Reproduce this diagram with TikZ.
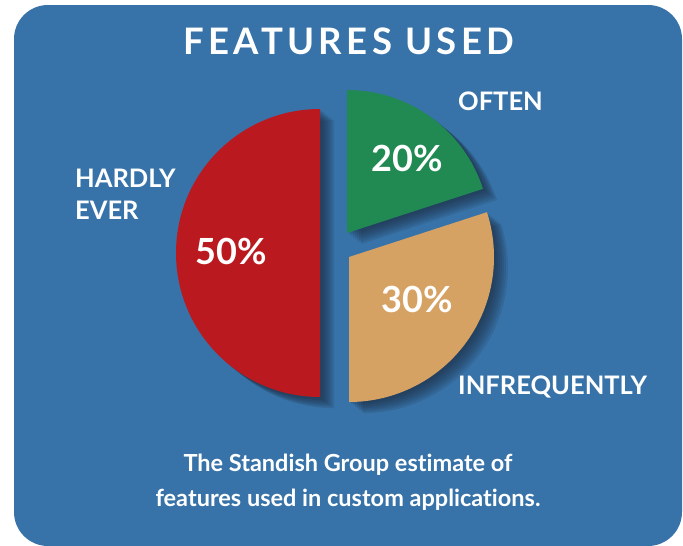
\documentclass[tikz,border=0pt]{standalone}
\usepackage{fontspec}
\setmainfont{Lato}[Ligatures=NoCommon]
\definecolor{panelblue}{HTML}{3773A8}
\definecolor{sliceRed}{HTML}{BA1A1F}
\definecolor{sliceGreen}{HTML}{218A53}
\definecolor{sliceTan}{HTML}{D6A263}
\definecolor{shadowNavy}{HTML}{1C2A3E}
% slice outlines (pixel units, y down)
\newcommand{\greenSlice}{(347,233) -- ++(0,-143) arc[start angle=-90, end angle=-18, radius=143] -- cycle}
\newcommand{\tanSlice}{(349,257) -- ++(-18:145) arc[start angle=-18, end angle=90, radius=145] -- cycle}
\newcommand{\redSlice}{(320,109) arc[start angle=-90, end angle=-270, radius=144] -- cycle}
\begin{document}
\begin{tikzpicture}[x=1pt,y=-1pt,
    pct/.style={text=white,font=\bfseries\fontsize{36}{40}\selectfont},
    lbl/.style={text=white,font=\bfseries\fontsize{25.5}{32}\selectfont,align=left,inner sep=0pt},
    note/.style={text=white,font=\bfseries\fontsize{23.5}{35}\selectfont,align=center,inner sep=0pt}]

    \useasboundingbox (0,0) rectangle (683,546); % Page size

    \fill[white] (0,0) rectangle (683,546);
    \fill[panelblue,rounded corners=34] (14,5) rectangle (682,546); % Panel

    % Soft shadow behind the slices
    \foreach \o in {2,4,...,14}{
        \fill[shadowNavy,opacity=0.14,shift={(\o,0.8*\o)}] \greenSlice;
        \fill[shadowNavy,opacity=0.14,shift={(\o,0.8*\o)}] \tanSlice;
        \fill[shadowNavy,opacity=0.14,shift={(\o,0.8*\o)}] \redSlice;
    }

    % Slices
    \fill[sliceGreen] \greenSlice;
    \fill[sliceTan] \tanSlice;
    \fill[sliceRed] \redSlice;

    % Title
    \node[text=white,font=\bfseries\fontsize{36.5}{40}\selectfont\addfontfeatures{LetterSpace=12}] (title) at (349,41) {FEATURES USED};

    % Percentages
    \node[pct] (often pct) at (407,159) {20\%};
    \node[pct] (hardly pct) at (231,252) {50\%};
    \node[pct] (infreq pct) at (417,300) {30\%};

    % Category labels
    \node[lbl,anchor=west] (often lbl) at (458,101) {OFTEN};
    \node[lbl,anchor=west] (hardly lbl) at (75,194) {HARDLY\\EVER};
    \node[lbl,anchor=west] (infreq lbl) at (458,387) {INFREQUENTLY};

    % Source note
    \node[note] (source) at (348,482) {The Standish Group estimate of\\features used in custom applications.};

\end{tikzpicture}
\end{document}
